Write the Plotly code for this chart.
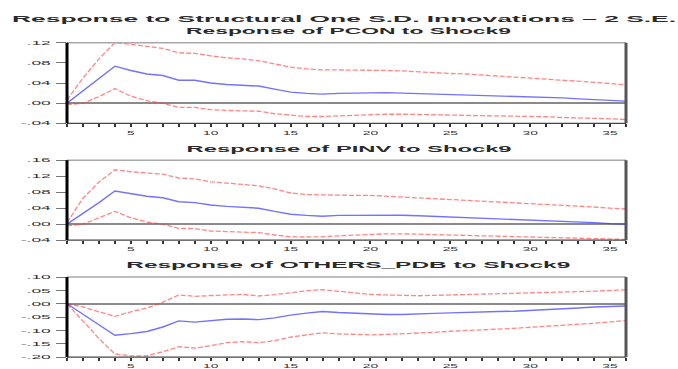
import json
import plotly.graph_objects as go

W, H = 678, 369

periods = list(range(1, 37))

# Response of PCON to Shock9
pcon_resp = [0.000, 0.025, 0.049, 0.0735, 0.065, 0.058, 0.055, 0.0455, 0.0455, 0.040,
             0.037, 0.036, 0.034, 0.028, 0.022, 0.0195, 0.018, 0.0195, 0.020, 0.021,
             0.021, 0.020, 0.019, 0.018, 0.0175, 0.017, 0.016, 0.0155, 0.014, 0.013,
             0.012, 0.0105, 0.0085, 0.007, 0.005, 0.004]
pcon_up = [0.006, 0.050, 0.088, 0.120, 0.117, 0.1125, 0.109, 0.100, 0.099, 0.094,
           0.090, 0.088, 0.0845, 0.078, 0.0715, 0.068, 0.066, 0.066, 0.066, 0.0655,
           0.065, 0.064, 0.062, 0.0605, 0.059, 0.058, 0.056, 0.0545, 0.0525, 0.0505,
           0.049, 0.046, 0.044, 0.0415, 0.039, 0.0365]
pcon_lo = [-0.003, 0.000, 0.013, 0.029, 0.014, 0.005, 0.000, -0.0085, -0.0085, -0.013,
           -0.0145, -0.015, -0.016, -0.021, -0.0245, -0.0265, -0.0265, -0.025, -0.0235, -0.023,
           -0.022, -0.022, -0.0225, -0.0225, -0.023, -0.024, -0.0245, -0.025, -0.026, -0.0265,
           -0.027, -0.0285, -0.029, -0.030, -0.031, -0.0325]

# Response of PINV to Shock9
pinv_resp = [0.000, 0.026, 0.054, 0.083, 0.077, 0.070, 0.066, 0.056, 0.054, 0.048,
             0.0445, 0.043, 0.040, 0.032, 0.025, 0.022, 0.020, 0.022, 0.0225, 0.0225,
             0.0225, 0.0225, 0.021, 0.0195, 0.018, 0.017, 0.016, 0.0145, 0.013, 0.011,
             0.0095, 0.007, 0.0055, 0.004, 0.0015, 0.000]
pinv_up = [0.004, 0.065, 0.105, 0.136, 0.131, 0.128, 0.125, 0.1155, 0.113, 0.106,
           0.1025, 0.100, 0.096, 0.088, 0.078, 0.074, 0.073, 0.073, 0.072, 0.072,
           0.070, 0.068, 0.066, 0.064, 0.062, 0.0605, 0.058, 0.0565, 0.054, 0.0525,
           0.050, 0.0475, 0.045, 0.043, 0.040, 0.038]
pinv_lo = [-0.004, 0.000, 0.016, 0.032, 0.016, 0.0055, 0.000, -0.0105, -0.011, -0.017,
           -0.0185, -0.019, -0.021, -0.027, -0.0315, -0.032, -0.0315, -0.029, -0.027, -0.025,
           -0.024, -0.024, -0.025, -0.026, -0.027, -0.0275, -0.028, -0.029, -0.030, -0.031,
           -0.0315, -0.033, -0.034, -0.0355, -0.0365, -0.038]

# Response of OTHERS_PDB to Shock9
oth_resp = [0.000, -0.039, -0.079, -0.118, -0.112, -0.104, -0.087, -0.064, -0.069, -0.063,
            -0.058, -0.057, -0.0595, -0.053, -0.0425, -0.035, -0.029, -0.033, -0.036, -0.039,
            -0.040, -0.040, -0.039, -0.036, -0.034, -0.0315, -0.030, -0.029, -0.028, -0.0255,
            -0.023, -0.0195, -0.016, -0.012, -0.0095, -0.0085]
oth_up = [0.000, -0.012, -0.030, -0.047, -0.030, -0.016, 0.006, 0.033, 0.028, 0.0315,
          0.033, 0.035, 0.029, 0.034, 0.0425, 0.0485, 0.053, 0.047, 0.040, 0.035,
          0.033, 0.0315, 0.030, 0.0315, 0.033, 0.034, 0.036, 0.036, 0.0375, 0.039,
          0.041, 0.0425, 0.045, 0.047, 0.0495, 0.052]
oth_lo = [0.000, -0.067, -0.130, -0.188, -0.195, -0.195, -0.180, -0.161, -0.166, -0.157,
          -0.146, -0.142, -0.146, -0.138, -0.125, -0.1165, -0.109, -0.113, -0.115, -0.1165,
          -0.115, -0.113, -0.110, -0.107, -0.103, -0.101, -0.097, -0.095, -0.092, -0.0885,
          -0.085, -0.081, -0.0765, -0.073, -0.068, -0.063]

main_title = "Response to Structural One S.D. Innovations \u2013 2 S.E."
panel_titles = ["Response of PCON to Shock9",
                "Response of PINV to Shock9",
                "Response of OTHERS_PDB to Shock9"]

y_ranges = [(-0.04, 0.12), (-0.04, 0.16), (-0.20, 0.10)]
y_tickvals = [[0.12, 0.08, 0.04, 0.00, -0.04],
              [0.16, 0.12, 0.08, 0.04, 0.00, -0.04],
              [0.10, 0.05, 0.00, -0.05, -0.10, -0.15, -0.20]]
y_ticktext = [[".12", ".08", ".04", ".00", "-.04"],
              [".16", ".12", ".08", ".04", ".00", "-.04"],
              [".10", ".05", ".00", "-.05", "-.10", "-.15", "-.20"]]
x_ticktext = [str(p) if p % 5 == 0 else "" for p in periods]

panels = [(pcon_resp, pcon_up, pcon_lo),
          (pinv_resp, pinv_up, pinv_lo),
          (oth_resp, oth_up, oth_lo)]

# pixel geometry of the three plot frames (left, right, top, bottom)
frame_x = (67, 626)
frame_y = [(41, 124), (162, 244.5), (282.5, 365)]
title_y = [28.5, 150, 270]
title_w = [325, 325, 444]


def px_x(v):
    return v / W


def px_y(v):
    return 1 - v / H


fig = go.Figure()
RED = "rgba(255,60,60,0.62)"
BLUE = "rgba(60,60,255,0.72)"

for i, (resp, up, lo) in enumerate(panels):
    ax = "" if i == 0 else str(i + 1)
    for ser in (up, lo):
        fig.add_trace(go.Scatter(x=periods, y=ser, mode="lines", xaxis="x" + ax, yaxis="y" + ax,
                                 line=dict(color=RED, width=1.3, dash="5px,2px"),
                                 showlegend=False, hoverinfo="skip"))
    fig.add_trace(go.Scatter(x=periods, y=resp, mode="lines", xaxis="x" + ax, yaxis="y" + ax,
                             line=dict(color=BLUE, width=1.4),
                             showlegend=False, hoverinfo="skip"))

tick_font = dict(family="Liberation Sans, Arial, sans-serif", size=6, color="#333")
title_font = dict(family="Liberation Sans, Arial, sans-serif", size=8.5, color="#2a2a2a", weight="bold")
layout = dict(width=W, height=H, margin=dict(l=0, r=0, t=0, b=0),
              paper_bgcolor="white", plot_bgcolor="white", showlegend=False)

shapes = []
annotations = []
for i in range(3):
    ax = "" if i == 0 else str(i + 1)
    xkey = "xaxis" + ax
    ykey = "yaxis" + ax
    top, bot = frame_y[i]
    layout[xkey] = dict(domain=[px_x(frame_x[0]), px_x(frame_x[1])], range=[1, 36],
                        anchor="y" + ax, tickmode="array", tickvals=periods, ticktext=x_ticktext,
                        ticks="outside", ticklen=3, tickwidth=1.5, tickcolor="#333",
                        showgrid=False, zeroline=False, showline=False,
                        tickfont=tick_font)
    layout[ykey] = dict(domain=[px_y(bot), px_y(top)], range=list(y_ranges[i]),
                        anchor="x" + ax, tickmode="array", tickvals=y_tickvals[i],
                        ticktext=y_ticktext[i], ticks="outside", ticklen=10, tickwidth=1,
                        tickcolor="#777", showgrid=False, showline=False,
                        zeroline=True, zerolinecolor="#8a8a8a", zerolinewidth=1.5,
                        ticklabelstandoff=4, tickfont=tick_font)
    xr = "x" + ax + " domain" if ax else "x domain"
    yr = "y" + ax + " domain" if ax else "y domain"
    shapes += [
        dict(type="line", xref=xr, yref=yr, x0=0, x1=1, y0=1, y1=1, line=dict(color="#a8a8a8", width=1.5)),
        dict(type="line", xref=xr, yref=yr, x0=0, x1=1, y0=0, y1=0, line=dict(color="#444", width=1.2)),
        dict(type="line", xref=xr, yref=yr, x0=1, x1=1, y0=0, y1=1, line=dict(color="#555", width=3)),
        dict(type="line", xref=xr, yref=yr, x0=0, x1=0, y0=0, y1=1, line=dict(color="#000", width=3)),
    ]
    annotations.append(dict(text=panel_titles[i], xref="paper", yref="paper",
                            x=px_x((frame_x[0] + frame_x[1]) / 2 + 2), y=px_y(title_y[i]),
                            xanchor="center", yanchor="middle", showarrow=False,
                            font=title_font))

annotations.append(dict(text=main_title, xref="paper", yref="paper", x=px_x(10), y=px_y(16),
                        xanchor="left", yanchor="middle", align="left", showarrow=False,
                        font=title_font))
layout["shapes"] = shapes
layout["annotations"] = annotations
fig.update_layout(**layout)

# horizontally widened lettering: titles get a fixed run length, tick labels a stretch factor
title_lengths = {main_title: 664}
for t, w in zip(panel_titles, title_w):
    title_lengths[t] = w

post = """
var gd = document.querySelectorAll('.js-plotly-plot')[0];
var spans = %s;
gd.querySelectorAll('text.annotation-text').forEach(function(t){
  var w = spans[t.textContent];
  if (w) { t.setAttribute('textLength', w); t.setAttribute('lengthAdjust', 'spacingAndGlyphs'); }
});
function stretch(sel, k){
  gd.querySelectorAll(sel).forEach(function(t){
    var n = t.getComputedTextLength();
    if (n > 0) { t.setAttribute('textLength', n * k); t.setAttribute('lengthAdjust', 'spacingAndGlyphs'); }
  });
}
stretch('.ytick text, .y2tick text, .y3tick text', 2.9);
stretch('.xtick text, .x2tick text, .x3tick text', 2.3);
""" % json.dumps(title_lengths)

fig.write_html("out.html", post_script=post)
